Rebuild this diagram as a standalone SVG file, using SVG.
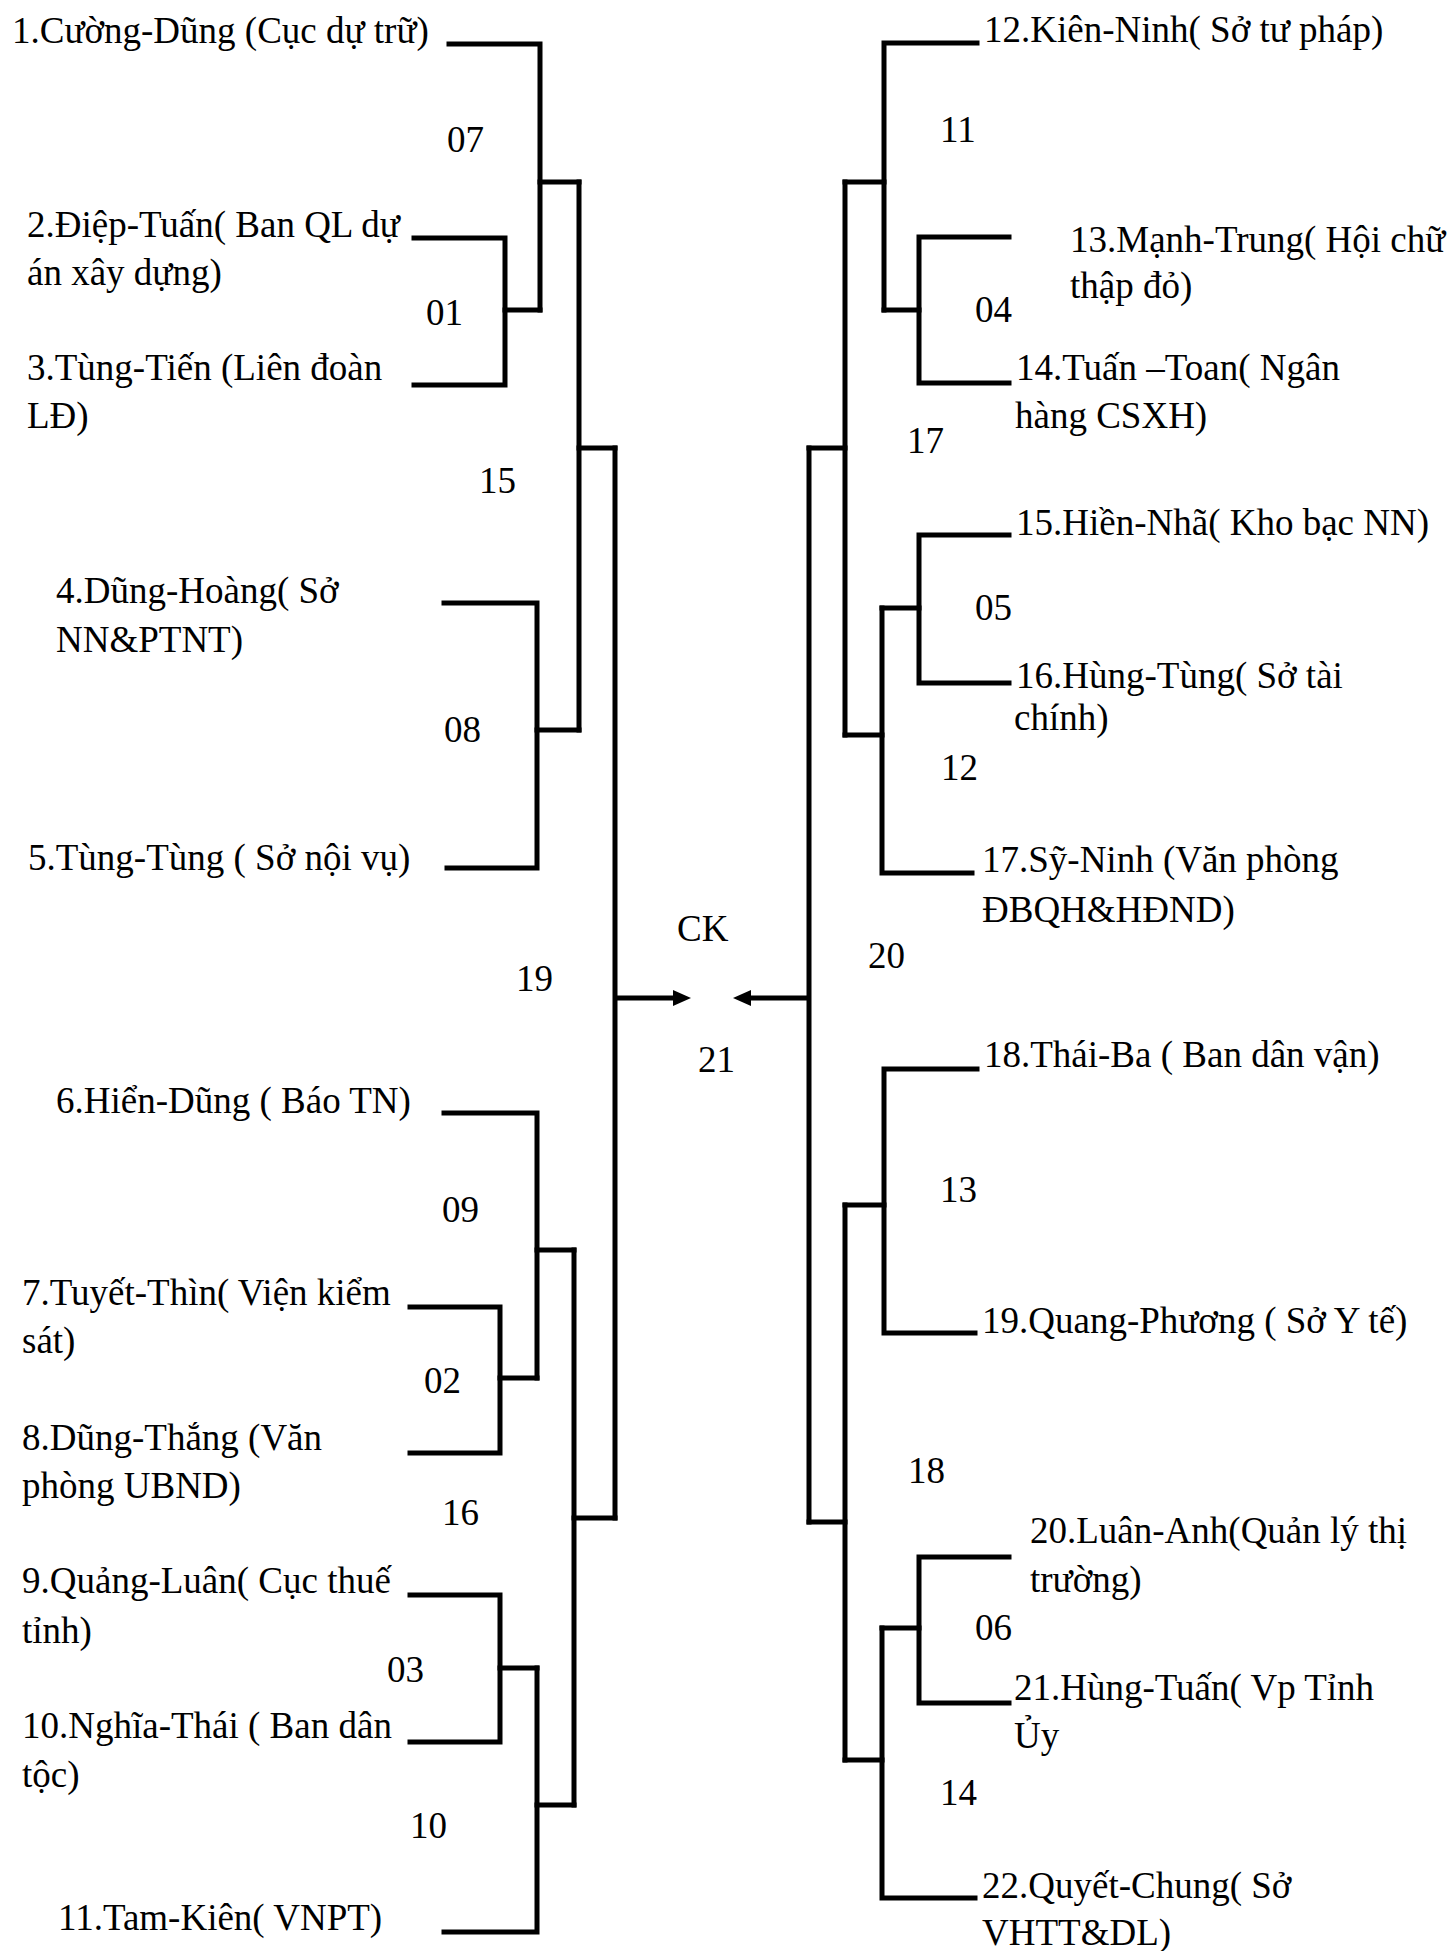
<svg xmlns="http://www.w3.org/2000/svg" width="1454" height="1951" viewBox="0 0 1454 1951">
<style>
text{font-family:"Liberation Serif","Times New Roman",serif;font-size:37px;fill:#000}
.c path{fill:none;stroke:#000;stroke-width:5;stroke-linejoin:miter;stroke-linecap:square}
</style>
<defs>
<marker id="ah" markerUnits="userSpaceOnUse" markerWidth="18" markerHeight="16" refX="0" refY="8" orient="auto">
<path d="M0,0 L18,8 L0,16 z" fill="#000"/>
</marker>
</defs>
<rect width="1454" height="1951" fill="#fff"/>
<g id="connectors" class="c">
<path d="M414,238 H505 V385 H414"/>
<path d="M505,310 H540"/>
<path d="M449,44 H540 V310"/>
<path d="M540,182 H579"/>
<path d="M444,603 H537 V868 H447"/>
<path d="M537,730 H579"/>
<path d="M579,182 V730"/>
<path d="M579,448 H615"/>
<path d="M615,448 V1518"/>
<path d="M410,1307 H500 V1453 H410"/>
<path d="M500,1378 H537"/>
<path d="M444,1113 H537 V1378"/>
<path d="M537,1250 H574"/>
<path d="M410,1595 H500 V1742 H410"/>
<path d="M500,1668 H537"/>
<path d="M537,1668 V1932 H444"/>
<path d="M537,1805 H574"/>
<path d="M574,1250 V1805"/>
<path d="M574,1518 H615"/>
<path d="M617,998 H673" marker-end="url(#ah)" style="stroke-linecap:butt"/>
<path d="M1009,237 H919 V383 H1009"/>
<path d="M884,310 H919"/>
<path d="M977,43 H884 V310"/>
<path d="M845,182 H884"/>
<path d="M1009,535 H919 V683 H1009"/>
<path d="M882,608 H919"/>
<path d="M882,608 V873 H972"/>
<path d="M845,735 H882"/>
<path d="M845,182 V735"/>
<path d="M809,448 H845"/>
<path d="M809,448 V1522"/>
<path d="M977,1069 H884 V1333 H975"/>
<path d="M845,1205 H884"/>
<path d="M1009,1557 H919 V1703 H1009"/>
<path d="M882,1628 H919"/>
<path d="M882,1628 V1898 H975"/>
<path d="M845,1760 H882"/>
<path d="M845,1205 V1760"/>
<path d="M809,1522 H845"/>
<path d="M807,998 H751" marker-end="url(#ah)" style="stroke-linecap:butt"/>
</g>
<g id="n1"><text x="12" y="43">1.Cường-Dũng (Cục dự trữ)</text></g>
<g id="n2"><text x="27" y="237">2.Điệp-Tuấn( Ban QL dự</text><text x="27" y="285">án xây dựng)</text></g>
<g id="n3"><text x="27" y="380">3.Tùng-Tiến (Liên đoàn</text><text x="27" y="428">LĐ)</text></g>
<g id="n4"><text x="56" y="603">4.Dũng-Hoàng( Sở</text><text x="56" y="652">NN&amp;PTNT)</text></g>
<g id="n5"><text x="28" y="870">5.Tùng-Tùng ( Sở nội vụ)</text></g>
<g id="n6"><text x="56" y="1113">6.Hiển-Dũng ( Báo TN)</text></g>
<g id="n7"><text x="22" y="1305">7.Tuyết-Thìn( Viện kiểm</text><text x="22" y="1353">sát)</text></g>
<g id="n8"><text x="22" y="1450">8.Dũng-Thắng (Văn</text><text x="22" y="1498">phòng UBND)</text></g>
<g id="n9"><text x="22" y="1593">9.Quảng-Luân( Cục thuế</text><text x="22" y="1643">tỉnh)</text></g>
<g id="n10"><text x="22" y="1738">10.Nghĩa-Thái ( Ban dân</text><text x="22" y="1787">tộc)</text></g>
<g id="n11"><text x="58" y="1930">11.Tam-Kiên( VNPT)</text></g>
<g id="n12"><text x="984" y="42">12.Kiên-Ninh( Sở tư pháp)</text></g>
<g id="n13"><text x="1070" y="252">13.Mạnh-Trung( Hội chữ</text><text x="1070" y="298">thập đỏ)</text></g>
<g id="n14"><text x="1016" y="380">14.Tuấn –Toan( Ngân</text><text x="1015" y="428">hàng CSXH)</text></g>
<g id="n15"><text x="1016" y="535">15.Hiền-Nhã( Kho bạc NN)</text></g>
<g id="n16"><text x="1016" y="688">16.Hùng-Tùng( Sở tài</text><text x="1014" y="730">chính)</text></g>
<g id="n17"><text x="982" y="872">17.Sỹ-Ninh (Văn phòng</text><text x="982" y="922">ĐBQH&amp;HĐND)</text></g>
<g id="n18"><text x="984" y="1067">18.Thái-Ba ( Ban dân vận)</text></g>
<g id="n19"><text x="982" y="1333">19.Quang-Phương ( Sở Y tế)</text></g>
<g id="n20"><text x="1030" y="1543">20.Luân-Anh(Quản lý thị</text><text x="1030" y="1592">trường)</text></g>
<g id="n21"><text x="1014" y="1700">21.Hùng-Tuấn( Vp Tỉnh</text><text x="1014" y="1748">Ủy</text></g>
<g id="n22"><text x="982" y="1898">22.Quyết-Chung( Sở</text><text x="982" y="1945">VHTT&amp;DL)</text></g>
<g id="labels">
<text x="447" y="152">07</text>
<text x="426" y="325">01</text>
<text x="479" y="493">15</text>
<text x="444" y="742">08</text>
<text x="516" y="991">19</text>
<text x="442" y="1222">09</text>
<text x="424" y="1393">02</text>
<text x="442" y="1525">16</text>
<text x="387" y="1682">03</text>
<text x="410" y="1838">10</text>
<text x="940" y="142">11</text>
<text x="975" y="322">04</text>
<text x="907" y="453">17</text>
<text x="975" y="620">05</text>
<text x="941" y="780">12</text>
<text x="868" y="968">20</text>
<text x="940" y="1202">13</text>
<text x="908" y="1483">18</text>
<text x="975" y="1640">06</text>
<text x="940" y="1805">14</text>
</g>
<g id="ck"><text x="677" y="941">CK</text></g>
<g id="n21label"><text x="698" y="1072">21</text></g>
</svg>
